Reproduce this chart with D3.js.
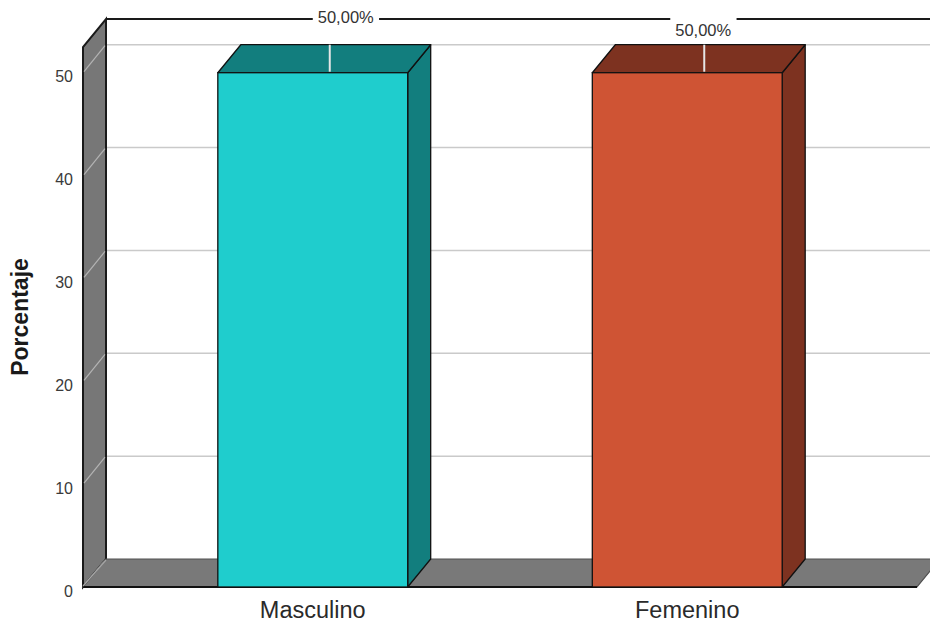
<!DOCTYPE html>
<html>
<head>
<meta charset="utf-8">
<script src="https://cdn.jsdelivr.net/npm/d3@7"></script>
<style>
  html, body { margin: 0; padding: 0; background: #fff; }
  svg { display: block; font-family: "Liberation Sans", Arial, sans-serif; }
</style>
</head>
<body>
<svg id="chart" width="930" height="623"></svg>
<script>
// Gender distribution (percent of respondents)
const categories = ["Masculino", "Femenino"];
const values = [50, 50];
const valueLabels = ["50,00%", "50,00%"];
const yTicks = [0, 10, 20, 30, 40, 50];
const yTitle = "Porcentaje";

const frontColors = ["#1fcdcd", "#cf5434"];
const darkColors = ["#127e7e", "#7d3220"];

// depth offset of the 3D frame
const DX = 23, DY = -28;

const svg = d3.select("#chart");

const y = d3.scaleLinear().domain([0, 52.5]).range([587, 47]);
const x = d3.scaleBand().domain(categories).range([83, 917])
  .paddingInner(0.493).paddingOuter(0.36);

const x0 = x.range()[0], x1 = x.range()[1];
const yTop = y(y.domain()[1]), yBase = y(0);

const line = d3.line();

// back wall gridlines
svg.append("g").selectAll("line").data(yTicks.filter(d => d > 0)).join("line")
  .attr("x1", x0 + DX).attr("x2", x1 + DX)
  .attr("y1", d => y(d) + DY).attr("y2", d => y(d) + DY)
  .attr("stroke", "#cacaca").attr("stroke-width", 1.5);

// top edge of the back wall
svg.append("line")
  .attr("x1", x0 + DX).attr("x2", x1 + DX)
  .attr("y1", yTop + DY).attr("y2", yTop + DY)
  .attr("stroke", "#1a1a1a").attr("stroke-width", 2);

// left side wall
svg.append("path")
  .attr("d", line([[x0, yBase], [x0, yTop], [x0 + DX, yTop + DY], [x0 + DX, yBase + DY]]) + "Z")
  .attr("fill", "#777777").attr("stroke", "#1a1a1a").attr("stroke-width", 2);

svg.append("g").selectAll("line").data(yTicks).join("line")
  .attr("x1", x0 + 1).attr("x2", x0 + DX - 1)
  .attr("y1", d => y(d) - 1).attr("y2", d => y(d) + DY + 1)
  .attr("stroke", "#b4b4b4").attr("stroke-width", 1.2);

// floor
svg.append("path")
  .attr("d", line([[x0, yBase], [x1, yBase], [x1 + DX, yBase + DY], [x0 + DX, yBase + DY]]) + "Z")
  .attr("fill", "#797979").attr("stroke", "#505050").attr("stroke-width", 1.2);
svg.append("line")
  .attr("x1", x0).attr("x2", x1).attr("y1", yBase).attr("y2", yBase)
  .attr("stroke", "#111").attr("stroke-width", 2);
svg.append("line")
  .attr("x1", x0).attr("x2", x0 + DX).attr("y1", yBase - 1).attr("y2", yBase + DY + 1)
  .attr("stroke", "#a8a8a8").attr("stroke-width", 1.2);

// 3D bars
const bars = svg.append("g").selectAll("g").data(categories).join("g");
bars.each(function (c, i) {
  const g = d3.select(this);
  const bx0 = x(c), bx1 = x(c) + x.bandwidth();
  const yt = y(values[i]), yb = y(0);
  g.append("path")
    .attr("d", line([[bx1, yb], [bx1, yt], [bx1 + DX, yt + DY], [bx1 + DX, yb + DY]]) + "Z")
    .attr("fill", darkColors[i]).attr("stroke", "#111").attr("stroke-width", 1.3)
    .attr("stroke-linejoin", "round");
  g.append("path")
    .attr("d", line([[bx0, yt], [bx1, yt], [bx1 + DX, yt + DY], [bx0 + DX, yt + DY]]) + "Z")
    .attr("fill", darkColors[i]).attr("stroke", "#111").attr("stroke-width", 1.3)
    .attr("stroke-linejoin", "round");
  g.append("rect")
    .attr("x", bx0).attr("y", yt).attr("width", bx1 - bx0).attr("height", yb - yt)
    .attr("fill", frontColors[i]).attr("stroke", "#111").attr("stroke-width", 1.3);
});

// value labels with leader lines across the bar tops
const labelShift = [[33, -50], [16, -37]];
const leaderShift = 17;
categories.forEach((c, i) => {
  const cx = x(c) + x.bandwidth() / 2;
  const yt = y(values[i]);
  svg.append("line")
    .attr("x1", cx + leaderShift).attr("x2", cx + leaderShift)
    .attr("y1", yt + DY).attr("y2", yt - 1)
    .attr("stroke", "#e6e6e6").attr("stroke-width", 2);
  const lg = svg.append("g");
  const t = lg.append("text")
    .attr("x", cx + labelShift[i][0]).attr("y", yt + labelShift[i][1])
    .attr("text-anchor", "middle")
    .attr("font-size", 16.5).attr("fill", "#333")
    .text(valueLabels[i]);
  const bb = t.node().getBBox();
  lg.insert("rect", "text")
    .attr("x", bb.x - 5).attr("y", bb.y - 4)
    .attr("width", bb.width + 10).attr("height", bb.height + 6)
    .attr("fill", "#fff");
});

// y tick labels
svg.append("g").selectAll("text").data(yTicks).join("text")
  .attr("x", 73).attr("y", d => y(d) + 4)
  .attr("text-anchor", "end").attr("dominant-baseline", "central")
  .attr("font-size", 16).attr("fill", "#3a3a3a")
  .text(d => d);

// y axis title
svg.append("text")
  .attr("transform", `translate(28, ${(yTop + yBase) / 2}) rotate(-90)`)
  .attr("text-anchor", "middle")
  .attr("font-size", 23).attr("font-weight", "bold").attr("fill", "#1a1a1a")
  .text(yTitle);

// category labels
svg.append("g").selectAll("text").data(categories).join("text")
  .attr("x", d => x(d) + x.bandwidth() / 2).attr("y", 618)
  .attr("text-anchor", "middle")
  .attr("font-size", 23.5).attr("fill", "#2a2a2a")
  .text(d => d);
</script>
</body>
</html>
